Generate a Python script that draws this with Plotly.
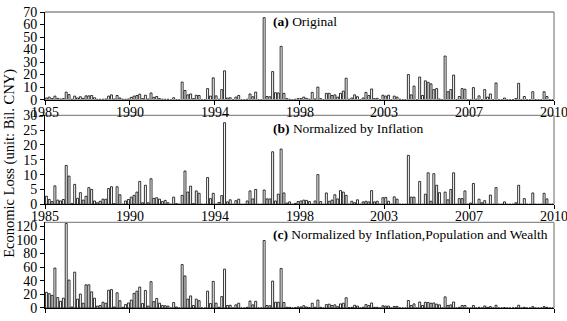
import plotly.graph_objects as go
from plotly.subplots import make_subplots

year_labels = ["1985", "1990", "1994", "1998", "2003", "2007", "2010"]
tick_index = [-0.5, 29.5, 59.5, 89.5, 119.5, 149.5, 179.5]

loss_original = [
    1.3, 2, 0.8, 2.8, 1, 0.5, 0.8, 6, 4, 0.3,
    2.8, 1.3, 2.3, 1, 3, 3, 3.3, 1.5, 0.3, 0.3,
    0.3, 0.5, 2.8, 3.8, 0.5, 3.3, 1.3, 0.3, 0.3, 0.5,
    1.8, 2.8, 3.3, 4.3, 0.8, 3.5, 0.5, 5.3, 1.8, 2.5,
    0.8, 0.3, 0.3, 0.3, 0, 1.5, 0, 0, 14, 7.3,
    3.8, 4.5, 0.8, 3.5, 3.3, 0, 0, 8.8, 2.8, 17.4,
    3, 0.3, 8, 23, 1.3, 1.5, 0, 2, 3.3, 0,
    0, 0.3, 4.5, 2.3, 6, 0, 0, 65.5, 2.5, 2.3,
    22.4, 5.5, 5.3, 42.5, 5, 0.8, 0.3, 0, 0.3, 0.8,
    0.8, 2, 1, 0.3, 5.8, 0.5, 10, 0.8, 0, 5,
    5, 3.3, 3.8, 2, 5, 6.8, 17.1, 0.3, 1.3, 3.8,
    2.3, 0, 1.3, 5.8, 3.3, 8.5, 0.8, 1, 0, 3.5,
    2.8, 3.5, 0, 2.8, 2, 0.3, 0, 0, 20, 3.8,
    10.8, 0, 18, 3.3, 15, 13.8, 12.6, 8, 8.8, 0.5,
    0, 34.8, 6.3, 8, 19.6, 0, 2.5, 8.8, 8.3, 0,
    0, 9.6, 0.3, 3, 0, 8, 2, 4.5, 0, 13.3,
    0, 0, 1.3, 0, 0, 0, 0.8, 13, 0, 2.5,
    0, 0, 6.3, 0, 0, 0, 6.3, 2.5, 0, 0,
]

loss_inflation = [
    2.7, 1.6, 0.9, 6.2, 1.4, 1.1, 1.6, 13.1, 9.5, 0.2,
    6.7, 2.0, 3.9, 1.4, 2.7, 5.6, 5.0, 1.1, 0.5, 1.0,
    1.7, 1.7, 5.3, 5.9, 0.2, 5.9, 3.2, 0, 1.1, 1.6,
    2.4, 3.0, 4.1, 7.7, 0.5, 6.4, 0.5, 8.6, 2.0, 2.2,
    1.7, 0.9, 1.3, 0.5, 0, 2.4, 0.2, 0, 3.0, 11.2,
    4.1, 6.1, 0.2, 4.5, 3.7, 0, 0, 9.0, 1.9, 3.7,
    0, 0.6, 2.9, 27.5, 0.8, 1.5, 0, 1.2, 1.7, 0,
    0, 1.1, 4.5, 1.8, 5.0, 0, 0, 4.8, 1.8, 1.8,
    17.7, 1.1, 3.4, 18.6, 3.8, 0.4, 0.8, 0, 0.3, 0.9,
    1.1, 1.4, 1.3, 0.9, 0, 1.1, 10.0, 0.9, 0, 3.8,
    1.0, 1.4, 3.2, 1.8, 4.6, 4.1, 3.0, 0, 1.0, 0.5,
    1.5, 0, 0.8, 1.0, 0.8, 4.6, 0.8, 1.0, 0, 2.2,
    2.3, 1.0, 0, 2.5, 1.7, 0, 0, 0, 16.5, 2.4,
    2.4, 0, 7.7, 0, 3.4, 10.6, 1.0, 10.3, 6.4, 3.9,
    0, 4.1, 1.5, 5.0, 10.6, 0, 1.9, 1.9, 4.5, 0,
    0.4, 7.0, 0, 1.7, 0.5, 1.2, 0, 3.1, 0, 5.6,
    0, 0, 0.8, 0, 0, 0, 0.5, 6.4, 0, 1.9,
    0, 0, 3.8, 0, 0, 0, 3.7, 1.8, 0, 0,
]

loss_inflation_pop_wealth = [
    23, 21, 18.6, 58.6, 15.3, 9.8, 14.4, 124, 41, 1.5,
    52.6, 13, 20.5, 7, 34, 34, 23.7, 14.4, 2.8, 3.7,
    8.4, 7, 26, 27, 1.5, 22.3, 10.7, 1, 5, 7.4,
    11.6, 21.4, 24.7, 30.7, 6.5, 25.6, 2.8, 38.6, 9.3, 14,
    7, 3.7, 3.3, 2.8, 0, 8, 1.5, 0, 63.7, 47,
    13, 17.7, 3.7, 13, 10.7, 0, 0, 24.7, 6.5, 39,
    7, 1, 16.7, 57, 3.7, 4, 0, 4.6, 7, 0,
    0, 1, 10.2, 4.6, 9.8, 0, 0, 99, 3.7, 3.3,
    39.5, 8.4, 8.4, 58, 8, 1, 1, 0, 0.5, 1.5,
    1.5, 3.3, 1.5, 0.5, 7, 1, 11.6, 1, 0, 5,
    5.6, 3.7, 4.6, 2, 6, 7, 15, 0.5, 1, 4,
    2.8, 0, 1, 5, 3.7, 7.4, 1, 1, 0, 3.3,
    2.8, 2.8, 0, 2.3, 2.3, 0, 0, 0, 11, 3.7,
    6, 0, 8.8, 3.7, 8.4, 8, 7, 7.4, 5.6, 4.6,
    0, 16.3, 3.7, 4.6, 8.8, 0, 1, 3.7, 3.7, 0,
    0, 3.7, 0, 1, 0, 3, 1, 2, 0, 4,
    0, 0, 0.5, 0, 0, 0, 0.3, 4, 0, 1,
    0, 0, 2, 0, 0, 0, 2, 1, 0, 0,
]

panel_titles = [
    "<b>(a)</b> Original",
    "<b>(b)</b> Normalized by Inflation",
    "<b>(c)</b> Normalized by Inflation,Population and Wealth",
]
y_ranges = [[0, 70], [0, 30], [0, 125.5]]
y_dtick = [10, 5, 20]
y_domains = [[0.704, 1.0], [0.3505, 0.651], [0.0, 0.289]]
title_y = [0.968, 0.608, 0.248]

series = [loss_original, loss_inflation, loss_inflation_pop_wealth]
idx = list(range(len(loss_original)))

font_family = "Liberation Serif"

fig = make_subplots(rows=3, cols=1)

for r, vals in enumerate(series, start=1):
    fig.add_trace(
        go.Bar(
            x=idx, y=vals,
            marker=dict(color="white", line=dict(color="black", width=0.8)),
            showlegend=False,
        ),
        row=r, col=1,
    )
    fig.update_xaxes(
        row=r, col=1,
        range=[-0.5, len(idx) - 0.5],
        tickmode="array", tickvals=tick_index, ticktext=year_labels,
        showticklabels=False,
        ticks="outside", ticklen=4, tickcolor="black", tickwidth=1,
        showline=True, linecolor="black", linewidth=1,
        showgrid=False, zeroline=False,
    )
    fig.update_yaxes(
        row=r, col=1,
        range=y_ranges[r - 1], dtick=y_dtick[r - 1], tick0=0,
        domain=y_domains[r - 1],
        ticks="outside", ticklen=4, tickcolor="black", tickwidth=1,
        showline=True, linecolor="black", linewidth=1,
        showgrid=False, zeroline=False,
        tickfont=dict(family=font_family, size=14, color="black"),
    )
    axn = "" if r == 1 else str(r)
    # gray frame (top and right)
    fig.add_shape(type="line", xref=f"x{axn} domain", yref=f"y{axn} domain",
                  x0=0, x1=1, y0=1, y1=1, line=dict(color="#8c8c8c", width=1.3))
    fig.add_shape(type="line", xref=f"x{axn} domain", yref=f"y{axn} domain",
                  x0=1, x1=1, y0=0, y1=1, line=dict(color="#8c8c8c", width=1.3))
    fig.add_annotation(
        xref="paper", yref="paper", x=0.444, y=title_y[r - 1],
        xanchor="left", yanchor="middle", showarrow=False,
        text=panel_titles[r - 1],
        font=dict(family=font_family, size=13.5, color="black"),
    )
    # year labels below panels (a) and (b)
    if r < 3:
        for tv, tt in zip(tick_index, year_labels):
            fig.add_annotation(
                xref=f"x{axn}", yref=f"y{axn} domain", x=tv, y=0,
                xanchor="center", yanchor="top", yshift=-3, showarrow=False,
                text=tt, font=dict(family=font_family, size=14, color="black"),
            )

fig.add_annotation(
    xref="paper", yref="paper", x=-0.069, y=0.49,
    xanchor="center", yanchor="middle", showarrow=False, textangle=-90,
    text="Economic Loss (unit: Bil. CNY)",
    font=dict(family=font_family, size=14.5, color="black"),
)

fig.update_layout(
    width=567, height=321,
    margin=dict(l=45, r=13, t=5, b=5),
    paper_bgcolor="white", plot_bgcolor="white",
    bargap=0.3,
    font=dict(family=font_family, size=14, color="black"),
)

fig.write_html("out.html")
